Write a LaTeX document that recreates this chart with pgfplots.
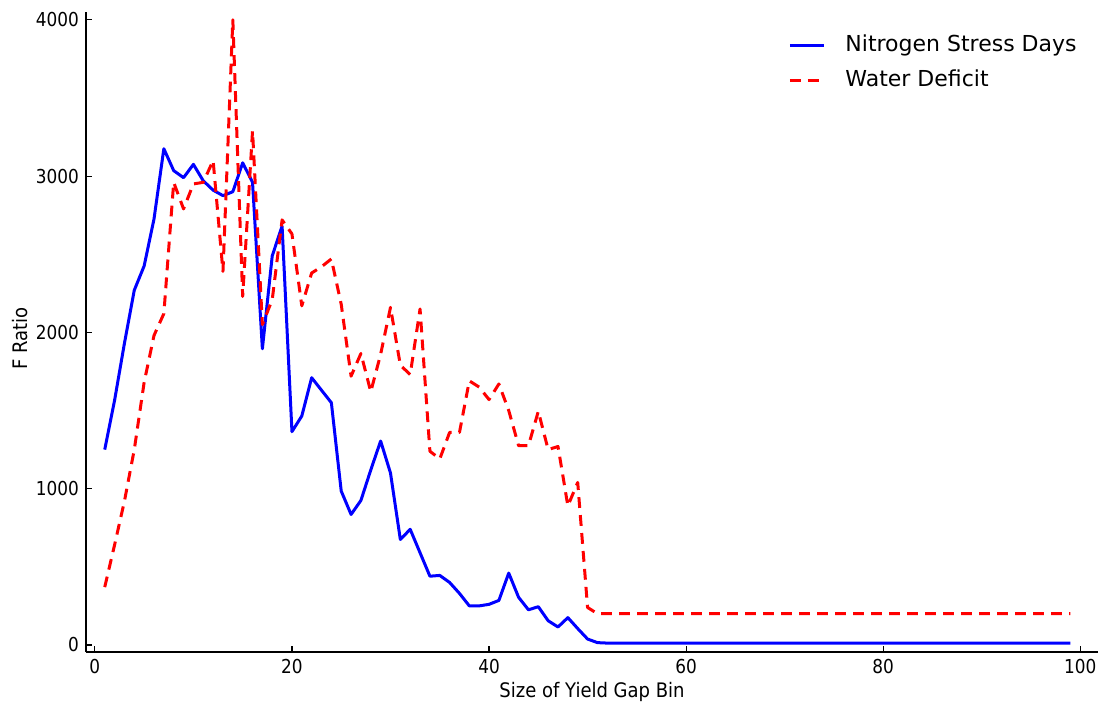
\documentclass[border=0pt]{standalone}
\usepackage{fontspec}
\setmainfont{DejaVu Sans}
\newfontfamily\condfont[FakeStretch=0.88]{DejaVu Sans}
\newfontfamily\labfont[FakeStretch=0.9]{DejaVu Sans}
\usepackage{pgfplots}
\pgfplotsset{compat=1.18}
\usepackage{pgfplotstable}
\pgfplotstableread{
x n w
1 1250 370
2 1565 640
3 1930 920
4 2270 1250
5 2425 1680
6 2725 1980
7 3175 2120
8 3035 2960
9 2990 2790
10 3075 2950
11 2970 2960
12 2910 3100
13 2875 2390
14 2900 4000
15 3085 2230
16 2960 3290
17 1895 2050
18 2490 2210
19 2680 2720
20 1365 2630
21 1465 2170
22 1710 2380
23 1630 2420
24 1550 2470
25 985 2180
26 835 1720
27 925 1865
28 1120 1620
29 1305 1860
30 1100 2160
31 675 1790
32 740 1730
33 590 2150
34 440 1240
35 445 1190
36 400 1360
37 330 1360
38 250 1690
39 250 1650
40 260 1570
41 285 1670
42 460 1500
43 305 1275
44 225 1275
45 245 1495
46 155 1250
47 115 1270
48 175 890
49 105 1040
50 38 240
51 15 200
52 12 200
53 12 200
54 12 200
55 12 200
56 12 200
57 12 200
58 12 200
59 12 200
60 12 200
61 12 200
62 12 200
63 12 200
64 12 200
65 12 200
66 12 200
67 12 200
68 12 200
69 12 200
70 12 200
71 12 200
72 12 200
73 12 200
74 12 200
75 12 200
76 12 200
77 12 200
78 12 200
79 12 200
80 12 200
81 12 200
82 12 200
83 12 200
84 12 200
85 12 200
86 12 200
87 12 200
88 12 200
89 12 200
90 12 200
91 12 200
92 12 200
93 12 200
94 12 200
95 12 200
96 12 200
97 12 200
98 12 200
99 12 200
}\datatable

\begin{document}
\begin{tikzpicture}
\begin{axis}[
  scale only axis, width=506pt, height=320pt,
  xmin=-0.9, xmax=101.8, ymin=-45, ymax=4050,
  axis x line*=bottom, axis y line*=left,
  axis line style={-, line width=0.8pt, black},
  xtick={0,20,...,100}, ytick={0,1000,...,4000},
  tick align=inside, major tick length=3pt,
  tick style={black, line width=0.6pt},
  /pgf/number format/assume math mode=true,
  /pgf/number format/1000 sep={},
  ticklabel style={font=\condfont\fontsize{9.6}{11}\selectfont},
  xlabel={Size of Yield Gap Bin}, ylabel={F Ratio},
  every axis x label/.style={at={(axis description cs:0.5,0)}, yshift=-20pt, anchor=center, font=\labfont\fontsize{10}{12}\selectfont},
  every axis y label/.style={at={(axis description cs:0,0.49)}, xshift=-33pt, rotate=90, anchor=center, font=\labfont\fontsize{10}{12}\selectfont},
  legend style={draw=none, fill=none, inner sep=0pt, at={(axis description cs:1,1)}, anchor=north east, xshift=-10.5pt, yshift=-11.5pt, font=\fontsize{11}{13}\selectfont, row sep=7pt, column sep=10pt, nodes={inner sep=0pt, text height=8pt, text depth=2.5pt}},
  legend cell align=left,
]
\addplot[blue, line width=1.5pt, line join=round] table[x=x,y=n]{\datatable};
\addlegendentry{Nitrogen Stress Days}
\addplot[red, line width=1.5pt, line join=round, dash pattern=on 5.4pt off 3.6pt] table[x=x,y=w]{\datatable};
\addlegendentry{Water Deficit}
\end{axis}
\path ([shift={(-43pt,-27pt)}]current axis.south west) rectangle ([shift={(4.5pt,6pt)}]current axis.north east);
\end{tikzpicture}
\end{document}
